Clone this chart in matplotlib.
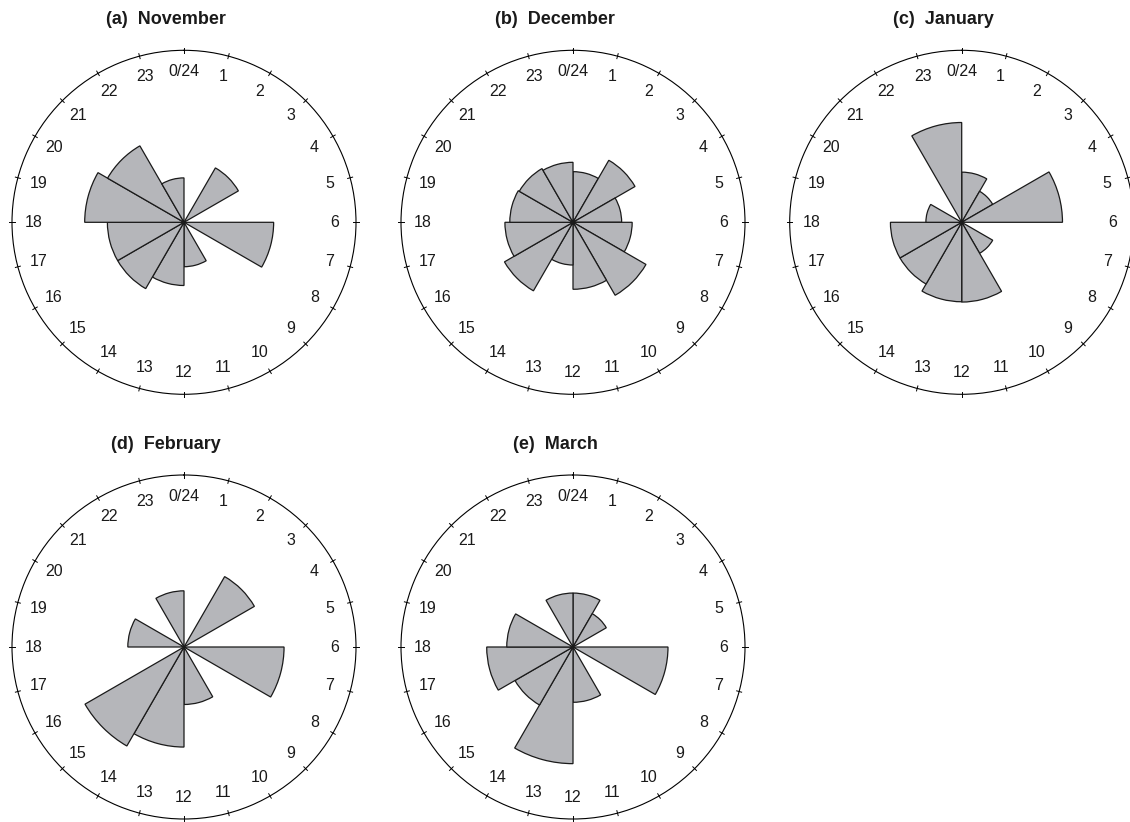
import numpy as np
import matplotlib
matplotlib.use('Agg')
import matplotlib.pyplot as plt

plt.rcParams['font.family'] = ['Liberation Sans', 'DejaVu Sans']

# percentage of events in each 2-hour bin (0-2, 2-4, ..., 22-24)
bins_start = np.arange(0, 24, 2)
november = [0, 8.0, 0, 16.3, 0, 4.0, 8.1, 11.9, 11.9, 20.0, 15.8, 4.0]
december = [5.2, 10.4, 4.8, 7.1, 14.4, 9.1, 3.7, 12.7, 9.4, 8.1, 7.8, 7.3]
january = [5.1, 2.6, 20.6, 0, 2.6, 12.9, 12.8, 10.3, 10.3, 2.6, 0, 20.2]
february = [0, 13.4, 0, 20.3, 0, 6.7, 20.3, 26.5, 0, 6.4, 0, 6.4]
march = [5.9, 3.0, 0, 18.3, 0, 6.2, 27.6, 9.1, 15.1, 8.9, 0, 5.9]

months = ['November', 'December', 'January', 'February', 'March']
panel_tags = ['(a)', '(b)', '(c)', '(d)', '(e)']
series = [november, december, january, february, march]

hour_labels = ['0/24'] + [str(h) for h in range(1, 24)]
r_max = np.sqrt(60)

W, H = 1130, 822
fig = plt.figure(figsize=(W / 100, H / 100), dpi=100)

# circle centres in pixels
centres = [(184, 222.3), (573, 222.3), (961.7, 222.3), (184, 647), (573, 647)]
R = 172

for k in range(5):
    cx, cy = centres[k]
    ax = fig.add_axes([(cx - R) / W, 1 - (cy + R) / H, 2 * R / W, 2 * R / H],
                      projection='polar')
    ax.set_theta_zero_location('N')
    ax.set_theta_direction(-1)
    ax.set_ylim(0, r_max)
    ax.grid(False)
    ax.set_yticks([])
    ax.set_xticks([])
    ax.spines['polar'].set_linewidth(0.8)
    ax.patch.set_alpha(0)

    theta = np.radians((bins_start + 1) * 15)
    ax.bar(theta, np.sqrt(series[k]), width=np.radians(30), align='center',
           color='#b5b6ba', edgecolor='#1a1a1a', linewidth=0.9)

    for h in range(24):
        t = np.radians(h * 15)
        ax.plot([t, t], [r_max * 0.985, r_max * 1.015], color='black',
                lw=0.7, clip_on=False)
        ax.text(t, r_max * 0.875, hour_labels[h], ha='center', va='center',
                fontsize=11.5, color='#1a1a1a')

    fig.text((cx - 18) / W, 1 - (cy - 198.5) / H,
             panel_tags[k] + '  ' + months[k], ha='center', va='baseline',
             fontsize=13, fontweight='bold', color='#1a1a1a')

fig.savefig('out.png', dpi=100)
